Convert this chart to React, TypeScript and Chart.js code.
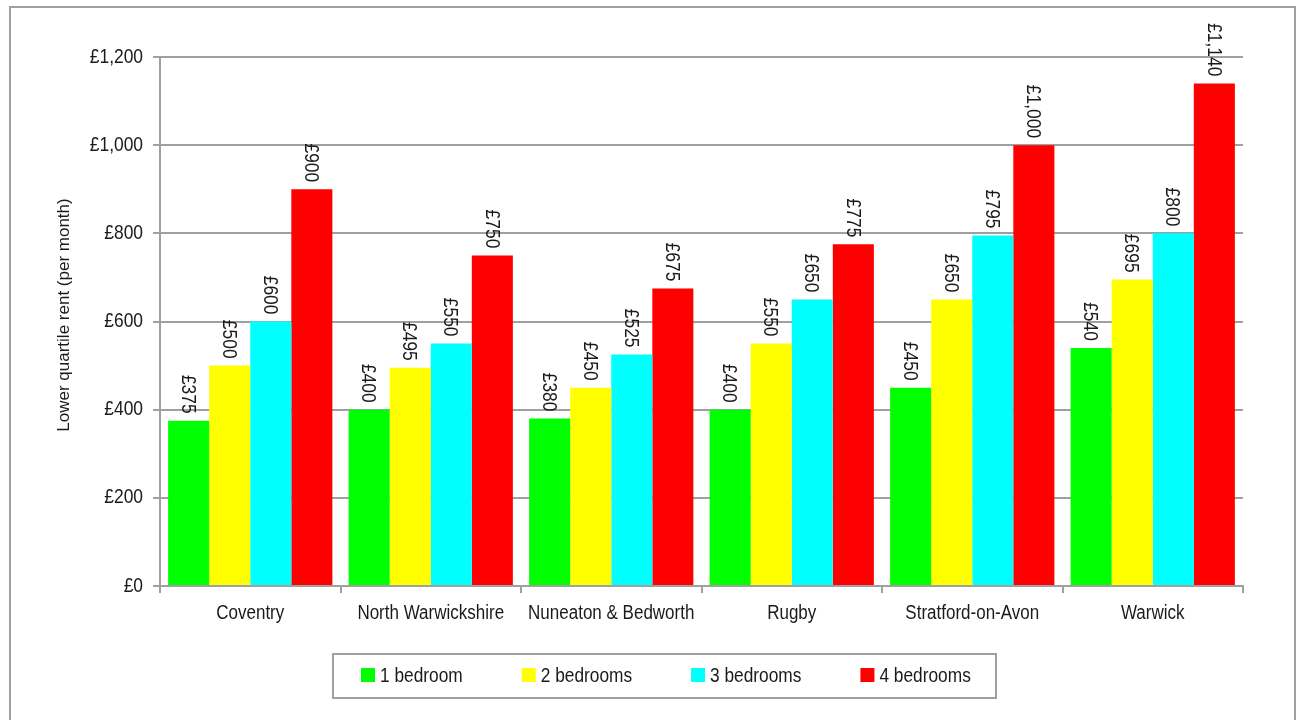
import React, { useEffect, useRef } from "react";
import { Chart, registerables } from "chart.js";

Chart.register(...registerables);

const categories = [
  "Coventry",
  "North Warwickshire",
  "Nuneaton & Bedworth",
  "Rugby",
  "Stratford-on-Avon",
  "Warwick",
];
const seriesNames = ["1 bedroom", "2 bedrooms", "3 bedrooms", "4 bedrooms"];
const oneBed = [375, 400, 380, 400, 450, 540];
const twoBed = [500, 495, 450, 550, 650, 695];
const threeBed = [600, 550, 525, 650, 795, 800];
const fourBed = [900, 750, 675, 775, 1000, 1140];
const seriesColors = ["#00ff00", "#ffff00", "#00ffff", "#ff0000"];
const yTicks = [0, 200, 400, 600, 800, 1000, 1200];
const yTitle = "Lower quartile rent (per month)";

const FONT = "'Liberation Sans', Arial, sans-serif";
const GRID = "#a0a0a0";
const TEXT = "#1a1a1a";

const fmt = (v: number) => "£" + v.toLocaleString("en-GB");

// draw horizontally condensed text (narrow face look-alike)
function narrowText(
  ctx: CanvasRenderingContext2D,
  text: string,
  x: number,
  y: number,
  size: number,
  squeeze: number,
  align: CanvasTextAlign,
  baseline: CanvasTextBaseline,
  rotate = 0
) {
  ctx.save();
  ctx.translate(x, y);
  if (rotate) ctx.rotate(rotate);
  ctx.scale(squeeze, 1);
  ctx.font = `${size}px ${FONT}`;
  ctx.fillStyle = TEXT;
  ctx.textAlign = align;
  ctx.textBaseline = baseline;
  ctx.fillText(text, 0, 0);
  ctx.restore();
}

const framePlugin = {
  id: "frame",
  beforeDraw(chart: any) {
    const ctx = chart.ctx;
    ctx.save();
    ctx.fillStyle = "#ffffff";
    ctx.fillRect(0, 0, chart.width, chart.height);
    ctx.strokeStyle = GRID;
    ctx.lineWidth = 2;
    ctx.strokeRect(10, 7, 1285, 740);
    ctx.restore();
  },
};

const axisTextPlugin = {
  id: "axisText",
  afterDraw(chart: any) {
    const ctx = chart.ctx;
    const xs = chart.scales.x;
    const ys = chart.scales.y;
    xs.ticks.forEach((_t: any, i: number) => {
      narrowText(ctx, String(chart.data.labels[i]), xs.getPixelForTick(i), 619, 20, 0.85, "center", "alphabetic");
    });
    ys.ticks.forEach((t: any) => {
      narrowText(ctx, fmt(t.value), 143, ys.getPixelForValue(t.value), 20, 0.87, "right", "middle");
    });
    narrowText(ctx, yTitle, 64, 315, 17, 1, "center", "middle", -Math.PI / 2);
  },
};

const labelPlugin = {
  id: "valueLabels",
  afterDatasetsDraw(chart: any) {
    const ctx = chart.ctx;
    chart.data.datasets.forEach((ds: any, di: number) => {
      const meta = chart.getDatasetMeta(di);
      meta.data.forEach((el: any, i: number) => {
        narrowText(ctx, fmt(ds.data[i]), el.x - 1, el.y - 7, 21, 0.83, "right", "middle", Math.PI / 2);
      });
    });
  },
};

const legendPlugin = {
  id: "boxLegend",
  afterDraw(chart: any) {
    const ctx = chart.ctx;
    const boxL = 333, boxT = 654, boxR = 996, boxB = 698;
    ctx.save();
    ctx.strokeStyle = GRID;
    ctx.lineWidth = 2;
    ctx.strokeRect(boxL, boxT, boxR - boxL, boxB - boxT);
    ctx.font = `20px ${FONT}`;
    const squeeze = 0.865;
    let x = 361;
    chart.data.datasets.forEach((ds: any) => {
      ctx.fillStyle = ds.backgroundColor;
      ctx.fillRect(x, 668, 14, 14);
      narrowText(ctx, ds.label, x + 19, 682, 20, squeeze, "left", "alphabetic");
      const w = ctx.measureText(ds.label).width * squeeze;
      x += 14 + 5 + w + 59;
    });
    ctx.restore();
  },
};

export default function App() {
  const ref = useRef<HTMLCanvasElement | null>(null);
  useEffect(() => {
    if (!ref.current) return;
    const values = [oneBed, twoBed, threeBed, fourBed];
    const chart = new Chart(ref.current, {
      type: "bar",
      data: {
        labels: categories,
        datasets: seriesNames.map((name, i) => ({
          label: name,
          data: values[i],
          backgroundColor: seriesColors[i],
          borderWidth: 0,
          categoryPercentage: 0.91,
          barPercentage: 1.0,
        })),
      },
      options: {
        responsive: false,
        animation: false,
        devicePixelRatio: 1,
        layout: { padding: { left: 10, top: 57, right: 57, bottom: 84 } },
        plugins: {
          legend: { display: false },
          tooltip: { enabled: false },
        },
        scales: {
          x: {
            afterFit: (s: any) => {
              s.height = 50;
            },
            grid: {
              display: true,
              drawOnChartArea: false,
              offset: true,
              color: GRID,
              lineWidth: 2,
              tickLength: 7,
            },
            border: { display: true, color: GRID, width: 2 },
            ticks: { display: false, autoSkip: false, maxRotation: 0 },
          },
          y: {
            min: 0,
            max: 1200,
            afterFit: (s: any) => {
              s.width = 150;
            },
            afterBuildTicks: (s: any) => {
              s.ticks = yTicks.map((v) => ({ value: v }));
            },
            grid: {
              color: GRID,
              lineWidth: 2,
              tickLength: 7,
            },
            border: { display: true, color: GRID, width: 2 },
            ticks: { display: false },
          },
        },
      },
      plugins: [framePlugin, labelPlugin, axisTextPlugin, legendPlugin],
    });
    return () => chart.destroy();
  }, []);
  return (
    <div style={{ position: "fixed", left: 0, top: 0, width: 1300, height: 720 }}>
      <canvas ref={ref} width={1300} height={720} />
    </div>
  );
}
